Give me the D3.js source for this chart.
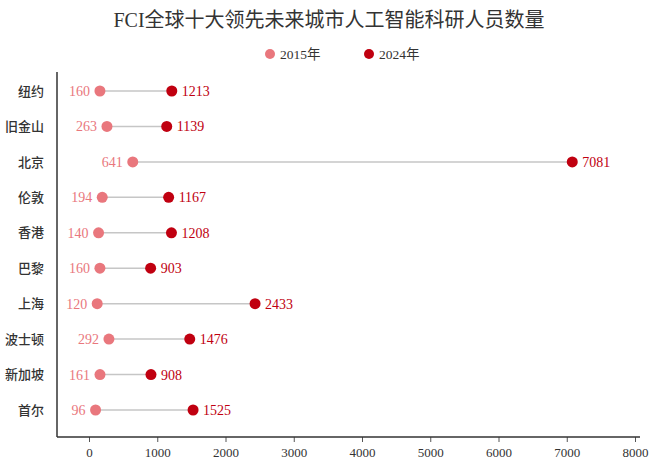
<!DOCTYPE html>
<html>
<head>
<meta charset="utf-8">
<script src="https://cdn.jsdelivr.net/npm/d3@7"></script>
<style>
  body { margin: 0; background: #fff; }
  text { font-family: 'Liberation Serif', 'Noto Sans CJK SC', serif; }
</style>
</head>
<body>
<div id="chart"></div>
<script>
const cities = ['纽约', '旧金山', '北京', '伦敦', '香港', '巴黎', '上海', '波士顿', '新加坡', '首尔'];
const values2015 = [160, 263, 641, 194, 140, 160, 120, 292, 161, 96];
const values2024 = [1213, 1139, 7081, 1167, 1208, 903, 2433, 1476, 908, 1525];
const xTicks = [0, 1000, 2000, 3000, 4000, 5000, 6000, 7000, 8000];
const seriesNames = ['2015年', '2024年'];

const width = 658;
const height = 468;
const marginLeft = 57;
const marginBottom = 437;
const color2015 = '#e9777d';
const color2024 = '#c00010';

const data = cities.map((city, i) => ({
  city,
  v2015: values2015[i],
  v2024: values2024[i],
}));

const xScale = d3.scaleLinear([0, 8000], [89, 635]);
const yScale = d3.scalePoint(cities, [91, 410]);

const svg = d3
  .select('#chart')
  .append('svg')
  .attr('width', width)
  .attr('height', height)
  .attr('viewBox', [0, 0, width, height]);

// title
svg
  .append('text')
  .attr('x', width / 2)
  .attr('y', 27)
  .attr('text-anchor', 'middle')
  .attr('fill', '#333')
  .style('font-size', '20px')
  .text('FCI全球十大领先未来城市人工智能科研人员数量');

// legend
const legend = svg.append('g');
[[270, color2015], [369, color2024]].forEach(([lx, c], i) => {
  legend.append('circle').attr('cx', lx).attr('cy', 54).attr('r', 5).attr('fill', c);
  legend
    .append('text')
    .attr('x', lx + 10)
    .attr('y', 58.5)
    .attr('fill', '#333')
    .style('font-size', '13.5px')
    .text(seriesNames[i]);
});

// x axis
const gx = svg
  .append('g')
  .attr('transform', `translate(0,${marginBottom})`)
  .call(
    d3
      .axisBottom(xScale)
      .tickValues(xTicks)
      .tickSizeInner(5)
      .tickSizeOuter(0)
      .tickPadding(6)
      .tickFormat(d3.format('d')),
  );
gx.select('.domain').remove();
gx.append('line')
  .attr('x1', marginLeft)
  .attr('x2', 640)
  .attr('stroke', '#333')
  .attr('stroke-width', 1.5);
gx.selectAll('.tick line').attr('stroke', '#555');
gx.selectAll('.tick text')
  .attr('fill', '#333')
  .style('font-size', '13px')
  .style('font-family', "'Liberation Serif', serif");

// y axis
const gy = svg
  .append('g')
  .attr('transform', `translate(${marginLeft},0)`)
  .call(d3.axisLeft(yScale).tickSize(0).tickPadding(13));
gy.select('.domain').remove();
gy.append('line')
  .attr('y1', 72)
  .attr('y2', marginBottom)
  .attr('stroke', '#333')
  .attr('stroke-width', 1.5);
gy.selectAll('.tick text')
  .attr('fill', '#333')
  .style('font-size', '13px')
  .style('font-weight', '500')
  .style('font-family', "'Noto Sans CJK SC', sans-serif");

// connectors
const rows = svg.append('g').selectAll('g').data(data).join('g');

rows
  .append('line')
  .attr('x1', (d) => xScale(d.v2015))
  .attr('x2', (d) => xScale(d.v2024))
  .attr('y1', (d) => yScale(d.city))
  .attr('y2', (d) => yScale(d.city))
  .attr('stroke', '#c6c6c6')
  .attr('stroke-width', 1.5);

rows
  .append('circle')
  .attr('cx', (d) => xScale(d.v2015))
  .attr('cy', (d) => yScale(d.city))
  .attr('r', 5.5)
  .attr('fill', color2015);

rows
  .append('circle')
  .attr('cx', (d) => xScale(d.v2024))
  .attr('cy', (d) => yScale(d.city))
  .attr('r', 5.5)
  .attr('fill', color2024);

rows
  .append('text')
  .attr('x', (d) => xScale(d.v2015) - 10)
  .attr('y', (d) => yScale(d.city) + 5)
  .attr('text-anchor', 'end')
  .attr('fill', color2015)
  .style('font-size', '14px')
  .text((d) => d.v2015);

rows
  .append('text')
  .attr('x', (d) => xScale(d.v2024) + 10)
  .attr('y', (d) => yScale(d.city) + 5)
  .attr('fill', color2024)
  .style('font-size', '14px')
  .text((d) => d.v2024);
</script>
</body>
</html>
